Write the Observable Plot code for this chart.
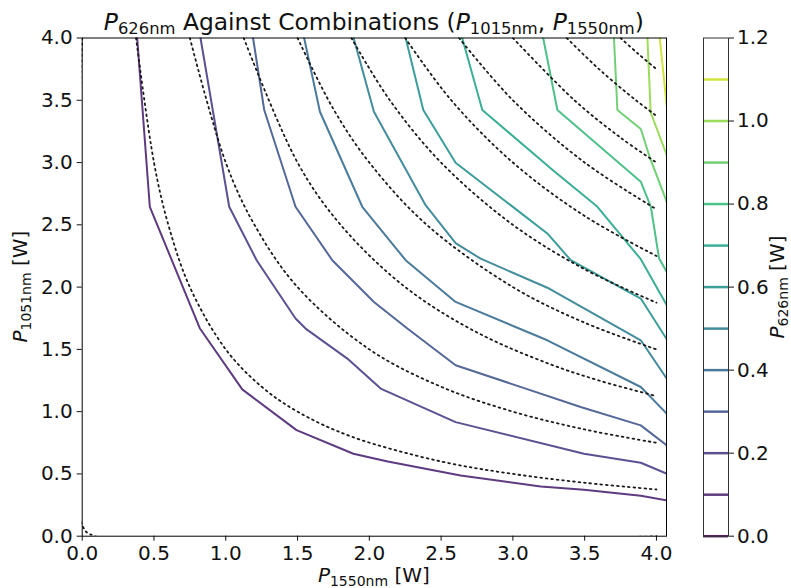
<!DOCTYPE html>
<html><head><meta charset="utf-8">
<script src="https://cdn.jsdelivr.net/npm/d3@7"></script>
<script src="https://cdn.jsdelivr.net/npm/@observablehq/plot@0.6"></script>
<style>
body{margin:0;background:#fff;}
#chart{position:relative;width:791px;height:588px;overflow:hidden;font-family:"DejaVu Sans",sans-serif;}
#chart svg{position:absolute;left:0;top:0;}
</style></head><body><div id="chart"></div>
<script>
// Contour levels of P626nm [W]
const levels = [0.1, 0.2, 0.3, 0.4, 0.5, 0.6, 0.7, 0.8, 0.9, 1.0, 1.1];
const colorbarLevels = [0.0, 0.1, 0.2, 0.3, 0.4, 0.5, 0.6, 0.7, 0.8, 0.9, 1.0, 1.1];
const xTicks = [0, 0.5, 1.0, 1.5, 2.0, 2.5, 3.0, 3.5, 4.0];
const yTicks = [0, 0.5, 1.0, 1.5, 2.0, 2.5, 3.0, 3.5, 4.0];
const cbTicks = [0, 0.2, 0.4, 0.6, 0.8, 1.0, 1.2];

// Measured contour lines: [P1550nm, P1051nm]
const c01 = [[0.383,4.0],[0.471,2.645],[0.819,1.670],[1.115,1.179],[1.493,0.852],[1.889,0.662],[2.128,0.600],[2.636,0.487],[3.194,0.399],[3.495,0.373],[3.891,0.325],[4.072,0.287]];
const c02 = [[0.824,4.0],[1.024,2.645],[1.215,2.216],[1.486,1.748],[1.556,1.667],[1.847,1.426],[2.079,1.185],[2.601,0.916],[3.495,0.662],[3.891,0.590],[4.072,0.502]];
const c03 = [[1.190,4.0],[1.268,3.422],[1.486,2.645],[1.742,2.216],[2.032,1.881],[2.265,1.667],[2.601,1.372],[3.089,1.185],[3.472,1.037],[3.891,0.890],[4.072,0.729]];
const c04 = [[1.546,4.0],[1.656,3.408],[1.951,2.645],[2.253,2.216],[2.601,1.881],[3.240,1.573],[3.891,1.198],[4.072,0.984]];
const c05 = [[1.891,4.0],[2.032,3.408],[2.392,2.658],[2.601,2.353],[2.775,2.228],[3.240,1.995],[3.891,1.573],[4.072,1.265]];
const c06 = [[2.253,4.0],[2.376,3.422],[2.601,2.998],[3.240,2.431],[3.403,2.216],[3.891,1.908],[4.072,1.581]];
const c07 = [[2.647,4.0],[2.787,3.422],[3.277,2.940],[3.589,2.645],[3.891,2.224],[4.072,1.854]];
const c08 = [[3.211,4.0],[3.310,3.422],[3.891,2.846],[3.961,2.645],[4.018,2.232],[4.072,2.122]];
const c09 = [[3.704,4.0],[3.728,3.422],[3.891,3.269],[3.953,3.044],[4.072,2.685]];
const c10 = [[3.937,4.0],[3.960,3.402],[4.072,3.060]];
const c11 = [[4.023,4.0],[4.072,3.449]];

// Dotted reference contours
const t00 = [[0,4],[0,0.09],[0.09,0],[4.0,0]];
const t01 = [[0.375,4],[0.5,3],[0.6,2.5],[0.75,2],[1.0,1.5],[1.25,1.2],[1.5,1.0],[1.875,0.8],[2.5,0.6],[3.0,0.5],[3.5,0.429],[4.0,0.375]];
const t02 = [[0.75,4],[1.0,3],[1.2,2.5],[1.5,2],[2.0,1.5],[2.5,1.2],[3.0,1.0],[3.5,0.857],[4.0,0.75]];
const t03 = [[1.125,4],[1.5,3],[1.8,2.5],[2.25,2],[2.75,1.636],[3.25,1.385],[3.6,1.25],[4.0,1.125]];
const t04 = [[1.5,4],[1.75,3.429],[2.0,3],[2.4,2.5],[3.0,2.0],[3.5,1.714],[4.0,1.5]];
const t05 = [[1.875,4],[2.143,3.5],[2.5,3],[3.0,2.5],[3.5,2.143],[4.0,1.875]];
const t06 = [[2.25,4],[2.571,3.5],[3.0,3.0],[3.5,2.571],[4.0,2.25]];
const t07 = [[2.625,4],[3.0,3.5],[3.5,3.0],[4.0,2.625]];
const t08 = [[3.0,4],[3.429,3.5],[3.75,3.2],[4.0,3.0]];
const t09 = [[3.375,4],[3.6,3.75],[3.857,3.5],[4.0,3.375]];
const t10 = [[3.75,4],[3.871,3.875],[4.0,3.75]];

const measured = [c01,c02,c03,c04,c05,c06,c07,c08,c09,c10,c11];
const theory = [t00,t01,t02,t03,t04,t05,t06,t07,t08,t09,t10];

const W = 791, H = 588;
const L = 81.7, R = 666, T = 37.5, B = 535.7;
const cmap = v => d3.interpolateViridis(v / 1.2);
const fmt = d3.format(".1f");
const baseStyle = {fontFamily: "DejaVu Sans", fontSize: "20px", color: "#111", background: "transparent", overflow: "visible"};

const solidMarks = measured.map((pts, i) => Plot.line(pts, {
  x: d => d[0], y: d => d[1], stroke: cmap(levels[i]), strokeWidth: 2, strokeOpacity: 0.88, clip: true
}));
const dottedMarks = theory.map(pts => Plot.line(pts, {
  x: d => d[0], y: d => d[1], curve: "catmull-rom", stroke: "#1a1a1a",
  strokeWidth: 1.8, strokeDasharray: "1.7,3.8", clip: true
}));

const main = Plot.plot({
  width: W, height: H,
  marginLeft: L, marginRight: W - R, marginTop: T, marginBottom: H - B,
  style: baseStyle,
  x: {domain: [0, 4.07], ticks: xTicks, tickFormat: fmt, tickSize: 5, tickPadding: 4.5, label: null},
  y: {domain: [0, 4], ticks: yTicks, tickFormat: fmt, tickSize: 5, tickPadding: 4.5, label: null},
  marks: [
    ...solidMarks,
    ...dottedMarks,
    Plot.frame({stroke: "black", strokeWidth: 1})
  ]
});

const cb = Plot.plot({
  width: W, height: H,
  marginLeft: 703, marginRight: W - 728, marginTop: T, marginBottom: H - B,
  style: baseStyle,
  x: {domain: [0, 1], axis: null},
  y: {domain: [0, 1.2], axis: "right", ticks: cbTicks, tickFormat: fmt, tickSize: 5, tickPadding: 3.5, label: null},
  marks: [
    Plot.ruleY(colorbarLevels, {y: d => d, stroke: d => cmap(d), strokeWidth: 2.5, strokeOpacity: 0.88}),
    Plot.frame({stroke: "#333", strokeWidth: 1})
  ]
});

const chart = document.getElementById("chart");
chart.appendChild(main);
chart.appendChild(cb);

// Rich text with italic P and subscripts
function rich(svg, parts, opts) {
  const t = d3.select(svg).append("text")
    .attr("text-anchor", "middle")
    .attr("font-family", "DejaVu Sans")
    .attr("font-size", opts.size)
    .attr("fill", "#111")
    .attr("transform", `translate(${opts.x},${opts.y}) rotate(${opts.rotate || 0})`);
  let shifted = 0;
  for (const [txt, kind] of parts) {
    const s = t.append("tspan").text(txt);
    if (kind === "i") s.attr("font-style", "italic");
    if (kind === "s") {
      s.attr("font-size", opts.size * 0.7).attr("dy", opts.sub - shifted);
      shifted = opts.sub;
    } else if (shifted) {
      s.attr("dy", -shifted);
      shifted = 0;
    }
  }
}

rich(main, [["P","i"],["626nm","s"],[" Against Combinations (",""],["P","i"],["1015nm","s"],[", ",""],["P","i"],["1550nm","s"],[")",""]],
  {x: (L + R) / 2, y: 29.5, size: 23.4, sub: 4});
rich(main, [["P","i"],["1550nm","s"],[" [W]",""]],
  {x: (L + R) / 2, y: 582, size: 20, sub: 3.5});
rich(main, [["P","i"],["1051nm","s"],[" [W]",""]],
  {x: 27, y: (T + B) / 2, size: 20, sub: 3.5, rotate: -90});
rich(cb, [["P","i"],["626nm","s"],[" [W]",""]],
  {x: 784, y: 287, size: 20, sub: 3.5, rotate: -90});
</script>
</body></html>
